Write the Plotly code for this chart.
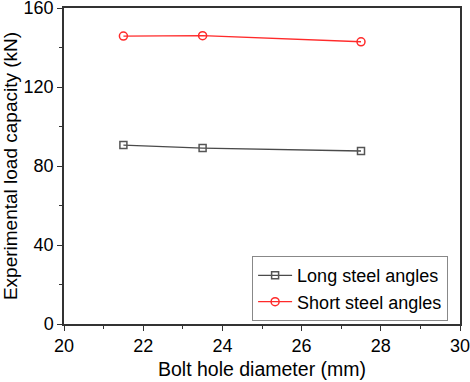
import plotly.graph_objects as go

diameter = [21.5, 23.5, 27.5]
long_angles = [90.6, 89.1, 87.6]
short_angles = [145.8, 146.0, 142.9]

FONT = "Liberation Sans, Arial"

fig = go.Figure()
fig.add_trace(go.Scatter(x=diameter, y=long_angles, mode="lines+markers", name="Long steel angles",
                         line=dict(color="#4a4a4a", width=1.3),
                         marker=dict(symbol="square-open", size=7, color="#555555", line=dict(width=1.5))))
fig.add_trace(go.Scatter(x=diameter, y=short_angles, mode="lines+markers", name="Short steel angles",
                         line=dict(color="#ff2a2a", width=1.3),
                         marker=dict(symbol="circle-open", size=8, color="#ff2a2a", line=dict(width=1.5))))

axis_common = dict(showline=True, linecolor="#333333", linewidth=1.5, mirror=True,
                   ticks="outside", ticklen=5, tickwidth=1.3, tickcolor="#333333",
                   showgrid=False, zeroline=False, automargin=False, ticklabeloverflow="allow",
                   tickfont=dict(family=FONT, size=18, color="black"))

fig.update_xaxes(range=[20, 30], tickvals=[20, 22, 24, 26, 28, 30],
                 minor=dict(tickvals=[21, 23, 25, 27, 29], ticks="outside", ticklen=3, tickcolor="#333333"),
                 title_text="Bolt hole diameter (mm)", title_standoff=7,
                 title_font=dict(family=FONT, size=19.5, color="black"), **axis_common)
fig.update_yaxes(range=[0, 160], tickvals=[0, 40, 80, 120, 160],
                 minor=dict(tickvals=[20, 60, 100, 140], ticks="outside", ticklen=3, tickcolor="#333333"),
                 title_text="Experimental load capacity (kN)", title_standoff=6,
                 title_font=dict(family=FONT, size=19, color="black"), **axis_common)

fig.update_layout(width=470, height=382, margin=dict(l=64, r=10, t=8, b=58),
                  plot_bgcolor="white", paper_bgcolor="white",
                  legend=dict(x=0.475, y=0.112, xanchor="left", yanchor="middle",
                              bgcolor="white", bordercolor="#888888", borderwidth=1,
                              font=dict(family=FONT, size=18, color="black"),
                              tracegroupgap=0, itemwidth=34),
                  showlegend=True)

fig.write_html("out.html", config={"displayModeBar": False},
               post_script="document.body.style.margin='0px';")
